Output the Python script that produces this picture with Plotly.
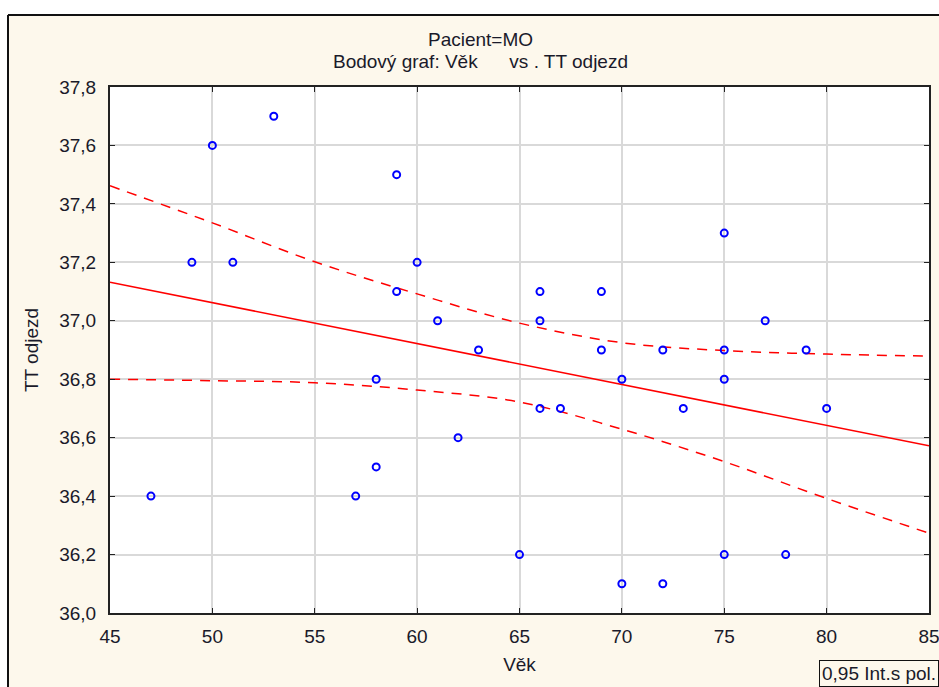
import plotly.graph_objects as go

# Data (Věk vs. TT odjezd, Pacient=MO)
vek = [47, 49, 50, 51, 53, 57, 58, 58, 59, 59, 60, 61, 62, 63, 65, 66, 66, 66, 67,
       69, 69, 70, 70, 72, 72, 73, 75, 75, 75, 75, 77, 78, 79, 80]
tt_odjezd = [36.4, 37.2, 37.6, 37.2, 37.7, 36.4, 36.8, 36.5, 37.5, 37.1, 37.2, 37.0,
             36.6, 36.9, 36.2, 37.1, 37.0, 36.7, 36.7, 37.1, 36.9, 36.8, 36.1, 36.9,
             36.1, 36.7, 37.3, 36.9, 36.8, 36.2, 37.0, 36.2, 36.9, 36.7]

# Regression line and 0.95 confidence band
fit_x = [45, 85]
fit_y = [37.132, 36.572]
band_x = [45, 50, 55, 60, 65, 70, 75, 80, 85]
band_upper = [37.462, 37.335, 37.202, 37.092, 36.992, 36.925, 36.898, 36.886, 36.879]
band_lower = [36.800, 36.795, 36.788, 36.763, 36.722, 36.629, 36.518, 36.392, 36.273]

x_ticks = [45, 50, 55, 60, 65, 70, 75, 80, 85]
y_ticks = [36.0, 36.2, 36.4, 36.6, 36.8, 37.0, 37.2, 37.4, 37.6, 37.8]
y_ticklabels = ["36,0", "36,2", "36,4", "36,6", "36,8", "37,0", "37,2", "37,4", "37,6", "37,8"]

FONT = "Liberation Sans, Arial, sans-serif"
TXT = "#1a1a2a"
CREAM = "#fdf8ec"
FS = 19

fig = go.Figure()
for band in (band_upper, band_lower):
    fig.add_trace(go.Scatter(x=band_x, y=band, mode="lines",
                             line=dict(color="#ff0000", width=1.5, dash="10px,8px",
                                       shape="spline", smoothing=1.0),
                             hoverinfo="skip", showlegend=False))
fig.add_trace(go.Scatter(x=fit_x, y=fit_y, mode="lines",
                         line=dict(color="#ff0000", width=1.5),
                         hoverinfo="skip", showlegend=False))
fig.add_trace(go.Scatter(x=vek, y=tt_odjezd, mode="markers",
                         marker=dict(symbol="circle-open", size=7, color="#0000ff",
                                     line=dict(width=2, color="#0000ff")),
                         showlegend=False))

W, H = 939, 687
L, R, T, B = 110, 10, 87, 74
pw, ph = W - L - R, H - T - B

def px_x(p):
    return (p - L) / pw

def px_y(p):
    return (H - B - p) / ph

fig.update_layout(
    width=W, height=H,
    autosize=False,
    margin=dict(l=L, r=R, t=T, b=B, autoexpand=False),
    paper_bgcolor=CREAM,
    plot_bgcolor="white",
    font=dict(family=FONT, size=FS, color=TXT),
    showlegend=False,
    xaxis=dict(range=[45, 85], tickvals=x_ticks, ticktext=[str(v) for v in x_ticks],
               showgrid=True, gridcolor="#d9d9d9", gridwidth=1.5,
               zeroline=False, showline=True, linecolor="#222222", linewidth=2,
               mirror="allticks", ticks="inside", ticklen=5, tickcolor="#222222",
               ticklabelstandoff=5, automargin=False, ticklabeloverflow="allow",
               title=dict(text="Věk", standoff=12, font=dict(size=FS))),
    yaxis=dict(range=[36.0, 37.8], tickvals=y_ticks, ticktext=y_ticklabels,
               showgrid=True, gridcolor="#d9d9d9", gridwidth=1.5,
               zeroline=False, showline=True, linecolor="#222222", linewidth=2,
               mirror="allticks", ticks="inside", ticklen=5, tickcolor="#222222",
               ticklabelstandoff=8, automargin=False, ticklabeloverflow="allow",
               title=dict(text="TT odjezd", standoff=16, font=dict(size=FS))),
    shapes=[
        dict(type="rect", xref="paper", yref="paper",
             x0=px_x(-5), x1=px_x(W + 5), y0=px_y(-5), y1=px_y(14),
             fillcolor="white", line=dict(width=0), layer="above"),
        dict(type="rect", xref="paper", yref="paper",
             x0=px_x(-5), x1=px_x(7), y0=px_y(H + 5), y1=px_y(-5),
             fillcolor="white", line=dict(width=0), layer="above"),
        dict(type="line", xref="paper", yref="paper",
             x0=px_x(8), x1=px_x(W + 5), y0=px_y(15), y1=px_y(15),
             line=dict(color="#111111", width=2)),
        dict(type="line", xref="paper", yref="paper",
             x0=px_x(8), x1=px_x(8), y0=px_y(15), y1=px_y(H + 5),
             line=dict(color="#111111", width=2)),
    ],
    annotations=[
        dict(text="Pacient=MO", xref="paper", yref="paper",
             x=px_x(480), y=px_y(40), xanchor="center", yanchor="middle",
             showarrow=False, font=dict(size=FS)),
        dict(text="Bodový graf: Věk" + "\u00a0" * 6 + "vs . TT odjezd",
             xref="paper", yref="paper",
             x=px_x(480), y=px_y(62), xanchor="center", yanchor="middle",
             showarrow=False, font=dict(size=FS)),
        dict(text="0,95 Int.s pol.", xref="paper", yref="paper",
             x=px_x(819), y=px_y(660), xanchor="left", yanchor="top",
             showarrow=False, bordercolor="#111111", borderwidth=1,
             borderpad=2, bgcolor=CREAM, font=dict(size=FS)),
    ],
)

fig.write_html("out.html")
